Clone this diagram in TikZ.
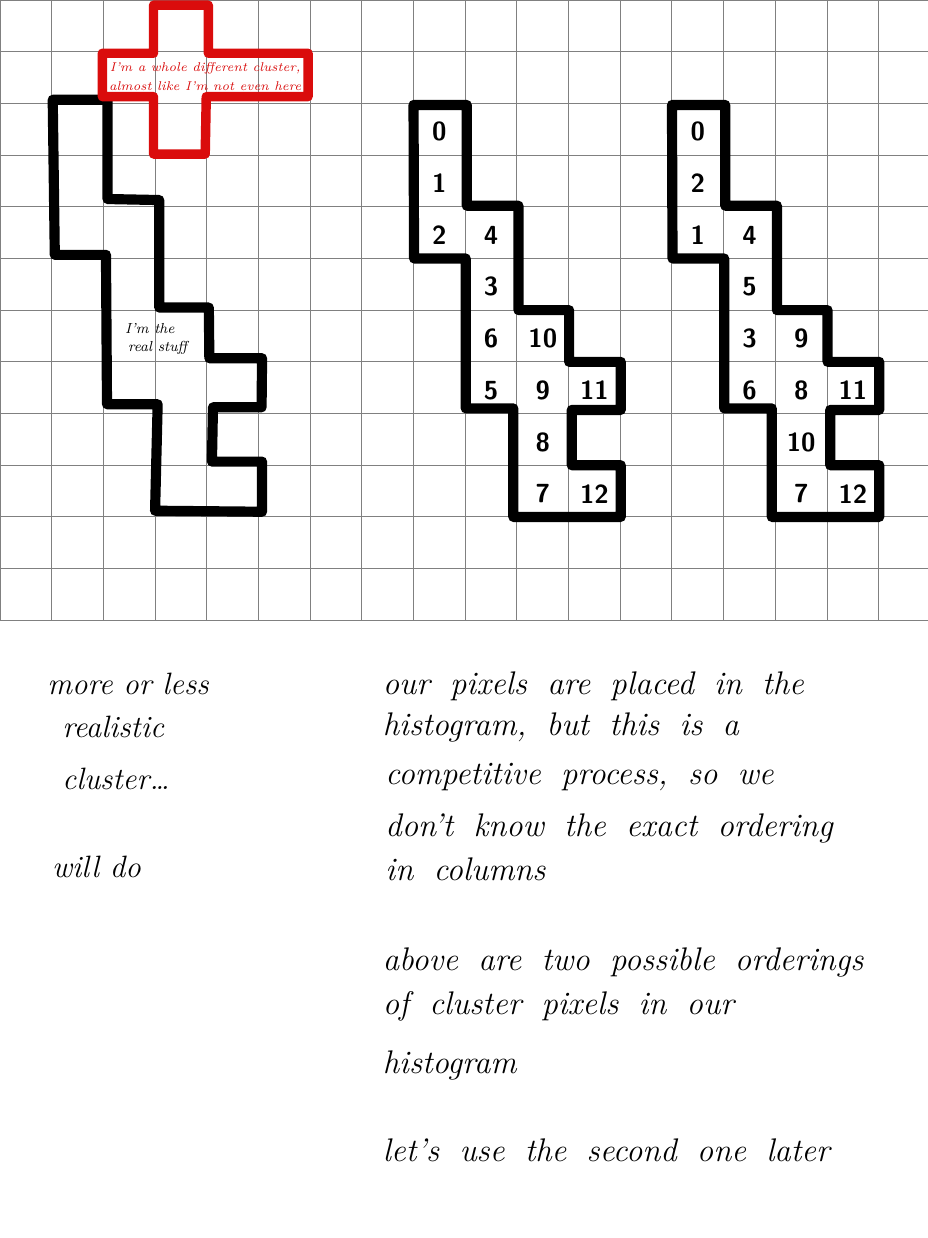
\documentclass[tikz,border=0pt]{standalone}
\usepackage{tikz}
\usetikzlibrary{calc}
\definecolor{crossred}{RGB}{218,12,12}
\newcommand\widewords{\spaceskip 0.62em\relax}

\begin{document}
\begin{tikzpicture}[x=1cm,y=-1cm,
  gridline/.style={draw=black!50,line width=0.55pt},
  outline/.style={draw=black,line width=5.6pt,line join=round,line cap=round},
  redline/.style={draw=crossred,line width=5.2pt,line join=round,line cap=round},
  digit/.style={font=\sffamily\bfseries\Large,inner sep=0pt},
  hand/.style={font=\itshape\fontsize{17}{20}\selectfont,anchor=mid west,inner sep=0pt},
  wide hand/.style={hand,font=\itshape\fontsize{18}{21}\selectfont\widewords},
  small hand/.style={font=\itshape\footnotesize,inner sep=0pt}]
\fill[white] (0,0) rectangle (17.95,23.95);
\useasboundingbox (0,0) rectangle (17.95,23.95);

% squared paper
\foreach \i in {0,...,17}
  \draw[gridline] (\i,0) -- (\i,12);
\foreach \j in {0,...,12}
  \draw[gridline] (0,\j) -- (17.95,\j);

% the real cluster
\draw[outline] (1.02,1.93) -- (2.08,1.93) -- (2.08,3.85) -- (3.08,3.87) -- (3.08,5.95)
  -- (4.04,5.95) -- (4.05,6.93) -- (5.07,6.93) -- (5.06,7.88) -- (4.12,7.88)
  -- (4.1,8.93) -- (5.07,8.93) -- (5.07,9.9) -- (3.0,9.88) -- (3.05,7.82)
  -- (2.07,7.82) -- (2.05,4.93) -- (1.06,4.93) -- cycle;
\node[small hand] (real1) at (2.9,6.35) {I'm the};
\node[small hand] (real2) at (3.05,6.72) {real stuff};

% the other cluster
\draw[redline] (2.97,0.1) -- (4.03,0.1) -- (4.03,1.03) -- (5.96,1.03) -- (5.96,1.87)
  -- (3.99,1.87) -- (3.97,2.98) -- (2.97,2.98) -- (2.97,1.87) -- (1.98,1.87)
  -- (1.98,1.03) -- (2.97,1.03) -- cycle;
\node[small hand,font=\itshape\fontsize{7}{8}\selectfont,text=crossred] (other1) at (3.97,1.33) {I'm a whole different cluster,};
\node[small hand,font=\itshape\fontsize{7}{8}\selectfont,text=crossred] (other2) at (3.97,1.66) {almost like I'm not even here};

% two orderings in the histogram
\foreach \s in {8,13}
  \draw[outline] (\s,2.03) -- ++(1.03,0) -- ++(0,1.95) -- ++(1,0) -- ++(0,2.02)
    -- ++(0.98,0) -- ++(0,1) -- ++(1,0) -- ++(0,0.93) -- ++(-0.95,0) -- ++(0,1.07)
    -- ++(0.95,0) -- ++(0,1) -- ++(-2.08,0) -- ++(0,-2.1) -- ++(-0.92,0)
    -- ++(0,-2.9) -- ++(-1,0) -- cycle;

\foreach \c/\r/\n in {8/2/0,8/3/1,8/4/2,9/4/4,9/5/3,9/6/6,9/7/5,
                      10/6/10,10/7/9,10/8/8,10/9/7,11/7/11,11/9/12}
  \node[digit] (first-\n) at (\c+0.5,\r+0.55) {\n};

\foreach \c/\r/\n in {13/2/0,13/3/2,13/4/1,14/4/4,14/5/5,14/6/3,14/7/6,
                      15/6/9,15/7/8,15/8/10,15/9/7,16/7/11,16/9/12}
  \node[digit] (second-\n) at (\c+0.5,\r+0.55) {\n};

% notes
\node[hand] (note1) at (0.91,13.35) {more or less};
\node[hand] (note2) at (1.2,14.2) {realistic};
\node[hand] (note3) at (1.2,15.2) {cluster\dots};
\node[hand] (note4) at (1.0,16.9) {will do};

\node[wide hand] (text1) at (7.4,13.35) {our pixels are placed in the};
\node[wide hand] (text2) at (7.4,14.15) {histogram, but this is a};
\node[wide hand] (text3) at (7.45,15.1) {competitive process, so we};
\node[wide hand] (text4) at (7.45,16.1) {don't know the exact ordering};
\node[wide hand] (text5) at (7.45,16.95) {in columns};
\node[wide hand] (text6) at (7.4,18.7) {above are two possible orderings};
\node[wide hand] (text7) at (7.4,19.55) {of cluster pixels in our};
\node[wide hand] (text8) at (7.4,20.7) {histogram};
\node[wide hand] (text9) at (7.4,22.4) {let's use the second one later};
\end{tikzpicture}
\end{document}
